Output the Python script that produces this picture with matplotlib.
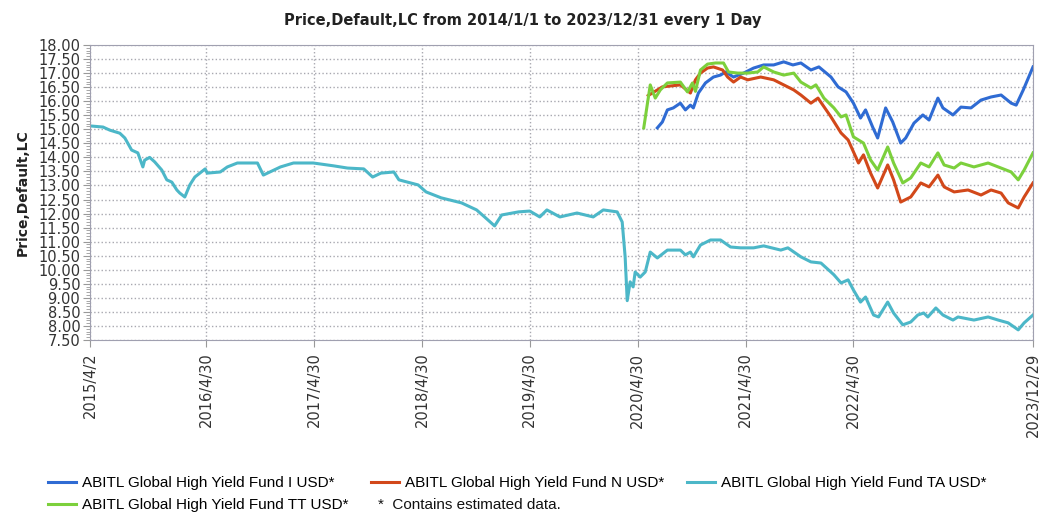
import pandas as pd
import matplotlib.pyplot as plt
from matplotlib.ticker import MultipleLocator

plt.rcParams['font.family'] = ['DejaVu Sans']

# ABITL Global High Yield Fund I USD
i_dates = ['2020-07-05', '2020-07-22', '2020-08-08', '2020-08-28', '2020-09-21', '2020-10-08',
           '2020-10-25', '2020-11-04', '2020-11-21', '2020-12-15', '2021-01-11', '2021-02-04',
           '2021-02-21', '2021-03-20', '2021-04-23', '2021-05-27', '2021-06-30', '2021-08-03',
           '2021-09-06', '2021-10-07', '2021-11-03', '2021-12-07', '2022-01-03', '2022-02-13',
           '2022-03-09', '2022-04-05', '2022-04-30', '2022-05-24', '2022-06-10', '2022-07-04',
           '2022-07-21', '2022-08-17', '2022-09-10', '2022-10-07', '2022-10-24', '2022-11-21',
           '2022-12-21', '2023-01-11', '2023-02-10', '2023-02-27', '2023-04-02', '2023-04-29',
           '2023-06-02', '2023-07-06', '2023-08-09', '2023-09-12', '2023-10-16', '2023-11-02',
           '2023-11-26', '2023-12-29']
i_vals = [15.05, 15.26, 15.69, 15.76, 15.93, 15.69, 15.86, 15.76, 16.29, 16.65, 16.86, 16.93,
          17.04, 16.86, 17.00, 17.18, 17.29, 17.29, 17.40, 17.29, 17.36, 17.11, 17.22, 16.86,
          16.51, 16.33, 15.93, 15.40, 15.69, 15.08, 14.69, 15.76, 15.26, 14.51, 14.69, 15.22,
          15.51, 15.33, 16.11, 15.76, 15.51, 15.79, 15.76, 16.04, 16.15, 16.22, 15.93, 15.86,
          16.40, 17.22]

# ABITL Global High Yield Fund N USD
n_dates = ['2020-06-04', '2020-07-22', '2020-09-21', '2020-10-25', '2020-11-11', '2020-11-28',
           '2020-12-22', '2021-01-11', '2021-02-11', '2021-02-28', '2021-03-20', '2021-04-13',
           '2021-05-07', '2021-06-20', '2021-08-03', '2021-09-06', '2021-10-10', '2021-11-03',
           '2021-12-07', '2021-12-31', '2022-02-13', '2022-03-19', '2022-04-12', '2022-05-17',
           '2022-06-03', '2022-06-27', '2022-07-21', '2022-08-24', '2022-09-13', '2022-10-07',
           '2022-11-10', '2022-12-14', '2023-01-11', '2023-02-10', '2023-03-03', '2023-04-06',
           '2023-05-23', '2023-07-06', '2023-08-09', '2023-09-12', '2023-10-06', '2023-11-09',
           '2023-11-29', '2023-12-29']
n_vals = [16.20, 16.51, 16.58, 16.29, 16.76, 17.00, 17.18, 17.22, 17.11, 16.86, 16.68, 16.86,
          16.76, 16.86, 16.76, 16.58, 16.40, 16.22, 15.93, 16.11, 15.44, 14.87, 14.62, 13.80,
          14.09, 13.44, 12.91, 13.73, 13.20, 12.41, 12.59, 13.09, 12.95, 13.37, 12.95, 12.77,
          12.84, 12.66, 12.84, 12.73, 12.38, 12.20, 12.59, 13.09]

# ABITL Global High Yield Fund TA USD
ta_dates = ['2015-04-02', '2015-05-16', '2015-06-08', '2015-07-12', '2015-07-29', '2015-08-21',
            '2015-09-11', '2015-09-28', '2015-10-04', '2015-10-21', '2015-11-07', '2015-12-01',
            '2015-12-18', '2016-01-04', '2016-01-21', '2016-01-31', '2016-02-17', '2016-03-05',
            '2016-03-22', '2016-04-26', '2016-05-03', '2016-06-16', '2016-07-10', '2016-08-13',
            '2016-10-20', '2016-11-09', '2017-01-06', '2017-02-19', '2017-04-27', '2017-07-04',
            '2017-08-21', '2017-10-15', '2017-11-14', '2017-12-12', '2018-01-25', '2018-02-11',
            '2018-04-17', '2018-05-14', '2018-07-04', '2018-09-11', '2018-11-01', '2018-11-28',
            '2019-01-01', '2019-01-25', '2019-03-23', '2019-04-30', '2019-06-03', '2019-06-27',
            '2019-08-10', '2019-10-07', '2019-12-01', '2020-01-04', '2020-02-20', '2020-03-08',
            '2020-03-18', '2020-03-25', '2020-04-04', '2020-04-14', '2020-04-21', '2020-05-08',
            '2020-05-25', '2020-06-11', '2020-07-05', '2020-08-08', '2020-09-21', '2020-10-08',
            '2020-10-25', '2020-11-04', '2020-11-28', '2021-01-01', '2021-02-04', '2021-03-10',
            '2021-04-13', '2021-05-27', '2021-06-30', '2021-08-27', '2021-09-20', '2021-11-03',
            '2021-12-07', '2022-01-10', '2022-02-23', '2022-03-19', '2022-04-12', '2022-04-30',
            '2022-05-24', '2022-06-10', '2022-07-07', '2022-07-24', '2022-08-24', '2022-09-13',
            '2022-10-14', '2022-11-10', '2022-12-04', '2022-12-24', '2023-01-07', '2023-02-03',
            '2023-02-27', '2023-04-02', '2023-04-19', '2023-06-12', '2023-07-30', '2023-09-02',
            '2023-10-06', '2023-11-09', '2023-11-29', '2023-12-29']
ta_vals = [15.12, 15.08, 14.97, 14.86, 14.69, 14.26, 14.16, 13.66, 13.90, 14.00, 13.84, 13.55,
           13.20, 13.12, 12.84, 12.73, 12.59, 13.02, 13.30, 13.59, 13.44, 13.48, 13.66, 13.80,
           13.80, 13.37, 13.66, 13.80, 13.80, 13.70, 13.62, 13.59, 13.30, 13.44, 13.48, 13.20,
           13.02, 12.77, 12.56, 12.38, 12.13, 11.88, 11.56, 11.95, 12.06, 12.09, 11.88, 12.13,
           11.88, 12.02, 11.88, 12.13, 12.06, 11.70, 10.46, 8.90, 9.57, 9.39, 9.92, 9.74,
           9.92, 10.63, 10.42, 10.70, 10.70, 10.53, 10.63, 10.46, 10.88, 11.06, 11.06, 10.81,
           10.78, 10.78, 10.85, 10.70, 10.78, 10.46, 10.28, 10.24, 9.82, 9.53, 9.64, 9.28,
           8.85, 9.03, 8.39, 8.32, 8.85, 8.46, 8.04, 8.14, 8.39, 8.46, 8.32, 8.64,
           8.39, 8.21, 8.32, 8.21, 8.32, 8.21, 8.11, 7.86, 8.11, 8.39]

# ABITL Global High Yield Fund TT USD
tt_dates = ['2020-05-20', '2020-06-11', '2020-06-28', '2020-07-15', '2020-08-08', '2020-09-21',
            '2020-10-15', '2020-11-01', '2020-11-11', '2020-11-28', '2020-12-22', '2021-01-18',
            '2021-02-14', '2021-03-03', '2021-04-03', '2021-05-07', '2021-06-10', '2021-06-30',
            '2021-08-03', '2021-09-06', '2021-10-10', '2021-11-03', '2021-12-07', '2021-12-24',
            '2022-01-20', '2022-02-23', '2022-03-19', '2022-04-05', '2022-04-30', '2022-06-03',
            '2022-06-27', '2022-07-21', '2022-08-24', '2022-09-13', '2022-10-14', '2022-11-10',
            '2022-12-14', '2023-01-11', '2023-02-10', '2023-03-03', '2023-04-06', '2023-04-29',
            '2023-06-12', '2023-07-30', '2023-09-12', '2023-10-16', '2023-11-09', '2023-11-29',
            '2023-12-29']
tt_vals = [15.05, 16.58, 16.11, 16.40, 16.65, 16.68, 16.33, 16.65, 16.35, 17.11, 17.32, 17.36,
           17.36, 17.04, 17.00, 17.00, 17.04, 17.22, 17.04, 16.93, 17.00, 16.68, 16.47, 16.58,
           16.11, 15.76, 15.44, 15.51, 14.73, 14.51, 13.91, 13.55, 14.37, 13.80, 13.09, 13.27,
           13.80, 13.66, 14.16, 13.73, 13.62, 13.80, 13.66, 13.80, 13.62, 13.48, 13.20, 13.55,
           14.16]

tick_dates = ['2015-04-02', '2016-04-30', '2017-04-30', '2018-04-30', '2019-04-30',
              '2020-04-30', '2021-04-30', '2022-04-30', '2023-12-29']
tick_labels = ['2015/4/2', '2016/4/30', '2017/4/30', '2018/4/30', '2019/4/30',
               '2020/4/30', '2021/4/30', '2022/4/30', '2023/12/29']

series = [
    ('ABITL Global High Yield Fund I USD*', i_dates, i_vals, '#2f6bd3'),
    ('ABITL Global High Yield Fund N USD*', n_dates, n_vals, '#d2481a'),
    ('ABITL Global High Yield Fund TA USD*', ta_dates, ta_vals, '#4cb7c8'),
    ('ABITL Global High Yield Fund TT USD*', tt_dates, tt_vals, '#7cd03c'),
]

fig = plt.figure(figsize=(10.44, 5.14), dpi=100)
ax = fig.add_axes([90 / 1044, 1 - 340 / 514, 943 / 1044, 295 / 514])

lines = {}
for label, d, v, c in series:
    ln, = ax.plot(pd.to_datetime(d), v, color=c, lw=2.2, label=label,
                  solid_joinstyle='round')
    lines[label] = ln

ticks = pd.to_datetime(tick_dates)
ax.set_xlim(ticks[0], ticks[-1])
ax.set_xticks(ticks)
ax.set_xticklabels(tick_labels, rotation=90, fontsize=10.5, color='#333333')
ax.set_ylim(7.5, 18.0)
ax.yaxis.set_major_locator(MultipleLocator(0.5))
ax.yaxis.set_minor_locator(MultipleLocator(0.1))
ax.yaxis.set_major_formatter(lambda v, p: f'{v:.2f}')
ax.tick_params(axis='y', labelsize=10.5, labelcolor='#333333', colors='#999999',
               length=5, pad=2)
ax.tick_params(axis='y', which='minor', length=3, colors='#999999')
ax.tick_params(axis='x', length=5, colors='#999999', labelcolor='#333333', pad=4)

ax.grid(True, which='major', ls=':', color='#a8a8b0', lw=1.0)
for sp in ax.spines.values():
    sp.set_color('#a0a0b0')

ax.set_ylabel('Price,Default,LC', fontsize=10, fontweight='bold', color='#222222',
              labelpad=6)

fig.text(523 / 1044, 1 - 20 / 514, 'Price,Default,LC from 2014/1/1 to 2023/12/31 every 1 Day',
         ha='center', va='center', fontsize=10.5, fontweight='bold', color='#222222')

order = [series[0][0], series[3][0], series[1][0], series[2][0]]
fig.legend([lines[k] for k in order], order, loc='upper left',
           bbox_to_anchor=(48 / 1044, 1 - 476 / 514), ncol=3, frameon=False,
           borderpad=0, borderaxespad=0, handlelength=1.85, handletextpad=0.4,
           columnspacing=1.45, labelspacing=0.53,
           prop={'family': 'Liberation Sans', 'size': 11})
fig.text(378 / 1044, 1 - 505 / 514, '*  Contains estimated data.', ha='left', va='center',
         fontsize=11, family='Liberation Sans', color='#111111')

fig.savefig('out.png', dpi=100)
